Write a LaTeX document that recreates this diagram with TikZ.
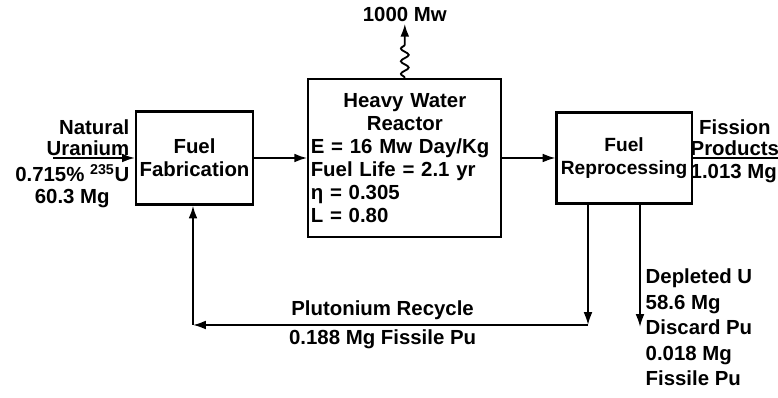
\documentclass[tikz,border=0pt]{standalone}
\usepackage{fontspec}
\setmainfont{Liberation Sans}
\usepackage{tikz}
\usetikzlibrary{arrows.meta,positioning,decorations.pathmorphing}
\tikzset{
  unit/.style={rectangle,draw=black,line width=1.6pt,inner sep=1pt,align=center,font=\fontsize{14.5}{16.3}\selectfont\bfseries},
  lbl/.style={inner sep=1pt,font=\fontsize{14.5}{15}\selectfont\bfseries},
  lblwide/.style={inner sep=1pt,align=left,font=\fontsize{14.5}{18.2}\selectfont\bfseries},
  arrow/.style={-{Latex[length=3.2mm,width=2.2mm]},line width=1.3pt},
  flow/.style={line width=1.3pt},
}

\begin{document}
\begin{tikzpicture}[x=0.025cm,y=-0.025cm]
  \useasboundingbox[fill=white] (0,0) rectangle (778,398);

  % Process units
  \node[unit,minimum width=2.925cm,minimum height=2.325cm] (fab) at (194.5,158) {Fuel\\Fabrication};
  \node[unit,minimum width=4.825cm,minimum height=3.95cm,text width=4.7cm,align=left,right=1.325cm of fab] (reactor) {{\centering Heavy Water\\Reactor\par}
    E = 16 Mw Day/Kg\\
    Fuel Life = 2.1 yr\\
    η = 0.305\\
    L = 0.80};
  \node[unit,minimum width=3.375cm,minimum height=2.275cm,inner sep=0pt,font=\fontsize{13.6}{16.3}\selectfont\bfseries,right=1.325cm of reactor] (reproc) {Fuel\\Reprocessing};
  \node[lbl,above=1.35cm of reactor] (power) {1000 Mw};

  % Free ends
  \coordinate (uin) at (53,158);
  \coordinate (pout) at (778,158);
  \coordinate (rdown) at (588,325);
  \coordinate (ldown) at (193,325);
  \coordinate (dep) at (640,327);

  % Stream labels
  \node[lbl,anchor=south east,align=right] (natural) at (131,157) {Natural\\Uranium};
  \node[lbl,anchor=north east,align=center] (feed) at (131,163) {0.715\% \textsuperscript{235}U\\60.3 Mg};
  \node[lbl,anchor=south west,align=center] (fission) at (689,157) {Fission\\Products};
  \node[lbl,anchor=north west] (fpmass) at (689,163) {1.013 Mg};
  \node[lblwide,anchor=north west] (depleted) at (644,267) {Depleted U\\58.6 Mg\\Discard Pu\\0.018 Mg\\Fissile Pu};

  % Main flow
  \draw[arrow] (uin) -- (fab);
  \draw[arrow] (fab) -- (reactor);
  \draw[arrow] (reactor) -- (reproc);
  \draw[flow] (reproc) -- (pout);
  \draw[arrow,decorate,decoration={snake,amplitude=2.8pt,segment length=9pt,post length=12pt}] (reactor) -- (power);

  % Plutonium recycle and waste
  \draw[arrow] (reproc.south -| rdown) -- (rdown);
  \draw[arrow] (rdown) -- (ldown)
    node[lbl,pos=0.52,above=2pt] {Plutonium Recycle}
    node[lbl,pos=0.52,below=2pt] {0.188 Mg Fissile Pu};
  \draw[arrow] (ldown) -- (fab.south -| ldown);
  \draw[arrow] (reproc.south -| dep) -- (dep);

\end{tikzpicture}
\end{document}
